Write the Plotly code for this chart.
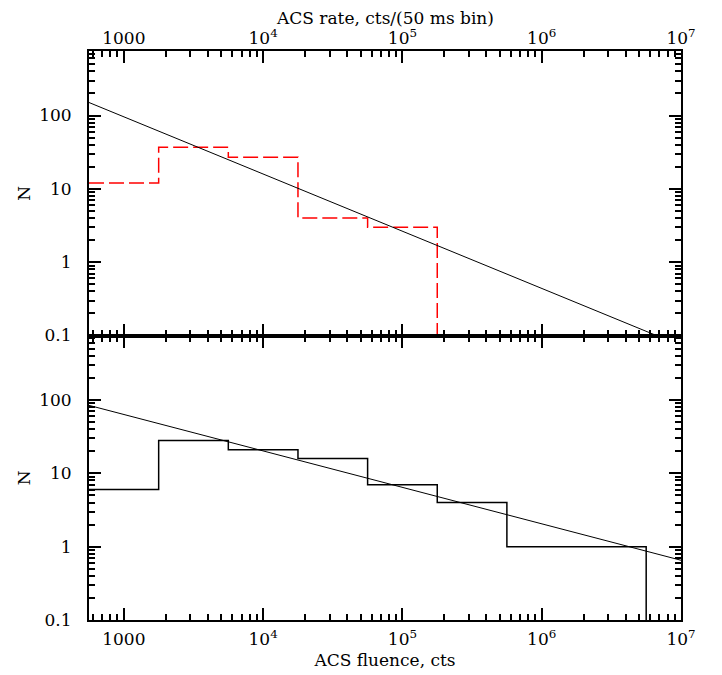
import numpy as np
import plotly.graph_objects as go

# ---- data ----
bin_edges_top = [562, 1778, 5623, 17783, 56234, 177828]   # lower edges + last upper edge
counts_top = [12, 37, 27, 4, 3]
bin_edges_bot = [562, 1778, 5623, 17783, 56234, 177828, 562341, 1778279, 5623413]
counts_bot = [6, 28, 21, 16, 7, 4, 1, 1]
fit_top_norm, fit_top_index = 96.0, -0.78      # N at 1000 cts, power-law index
fit_bot_norm, fit_bot_index = 63.5, -0.497
x_tickvals = [1000, 1e4, 1e5, 1e6, 1e7]
x_ticktext = ["1000", "10<sup>4</sup>", "10<sup>5</sup>", "10<sup>6</sup>", "10<sup>7</sup>"]
y_tickvals = [0.1, 1, 10, 100]
y_ticktext = ["0.1", "1", "10", "100"]

FONT = "DejaVu Serif"
FS = 17

def step_xy(edges, counts):
    xs = list(edges[:-1]) + [edges[-1], edges[-1]]
    ys = list(counts) + [counts[-1], 0.1]
    return xs, ys

x_fit = np.logspace(2.7, 7.05, 200)

fig = go.Figure()
xs, ys = step_xy(bin_edges_top, counts_top)
fig.add_trace(go.Scatter(x=xs, y=ys, mode="lines", line=dict(shape="hv", color="#ff0000", width=1.5, dash="15px,5px"),
                         xaxis="x", yaxis="y", showlegend=False))
fig.add_trace(go.Scatter(x=x_fit, y=fit_top_norm * (x_fit / 1000) ** fit_top_index, mode="lines",
                         line=dict(color="black", width=1), xaxis="x", yaxis="y", showlegend=False))
xs, ys = step_xy(bin_edges_bot, counts_bot)
fig.add_trace(go.Scatter(x=xs, y=ys, mode="lines", line=dict(shape="hv", color="black", width=1.5),
                         xaxis="x2", yaxis="y2", showlegend=False))
fig.add_trace(go.Scatter(x=x_fit, y=fit_bot_norm * (x_fit / 1000) ** fit_bot_index, mode="lines",
                         line=dict(color="black", width=1), xaxis="x2", yaxis="y2", showlegend=False))

def minor_vals(lo, hi):
    vals = []
    for d in range(lo, hi):
        for m in range(2, 10):
            vals.append(m * 10.0 ** d)
    return vals

common_x = dict(type="log", range=[np.log10(562), 7], tickmode="array", tickvals=x_tickvals, ticktext=x_ticktext,
                ticks="inside", ticklen=12, tickwidth=1.5, tickcolor="black", showline=True, linecolor="black",
                linewidth=2, mirror="allticks", showgrid=False, zeroline=False, automargin=False,
                minor=dict(tickmode="array", tickvals=minor_vals(2, 7), ticks="inside", ticklen=6,
                           tickwidth=1.5, tickcolor="black", showgrid=False),
                tickfont=dict(family=FONT, size=FS, color="black"))
common_y = dict(type="log", range=[-1, 2.88], tickmode="array", tickvals=y_tickvals, ticktext=y_ticktext,
                ticks="inside", ticklen=12, tickwidth=1.5, tickcolor="black", showline=True, linecolor="black",
                linewidth=2, mirror="allticks", showgrid=False, zeroline=False, automargin=False,
                ticklabelstandoff=12,
                minor=dict(tickmode="array", tickvals=minor_vals(-1, 3), ticks="inside", ticklen=6,
                           tickwidth=1.5, tickcolor="black", showgrid=False),
                tickfont=dict(family=FONT, size=FS, color="black"),
                title=dict(text="N", font=dict(family=FONT, size=FS, color="black"), standoff=4))

fig.update_layout(
    width=722, height=675,
    margin=dict(l=81, r=49, t=43, b=63),
    paper_bgcolor="white", plot_bgcolor="white",
    xaxis=dict(**common_x, domain=[0, 1], anchor="y", side="top", ticklabelstandoff=-2),
    yaxis=dict(**common_y, domain=[0.5, 1], anchor="x"),
    xaxis2=dict(**common_x, domain=[0, 1], anchor="y2", side="bottom", ticklabelstandoff=3,
                title=dict(text="ACS fluence, cts", font=dict(family=FONT, size=FS, color="black"), standoff=6)),
    yaxis2=dict(**common_y, domain=[0, 0.5], anchor="x2"),
    annotations=[dict(text="ACS rate, cts/(50 ms bin)", xref="paper", yref="paper", x=0.5, y=1,
                      xanchor="center", yanchor="middle", yshift=33, showarrow=False,
                      font=dict(family=FONT, size=FS, color="black"))],
)

fig.write_html("out.html")
